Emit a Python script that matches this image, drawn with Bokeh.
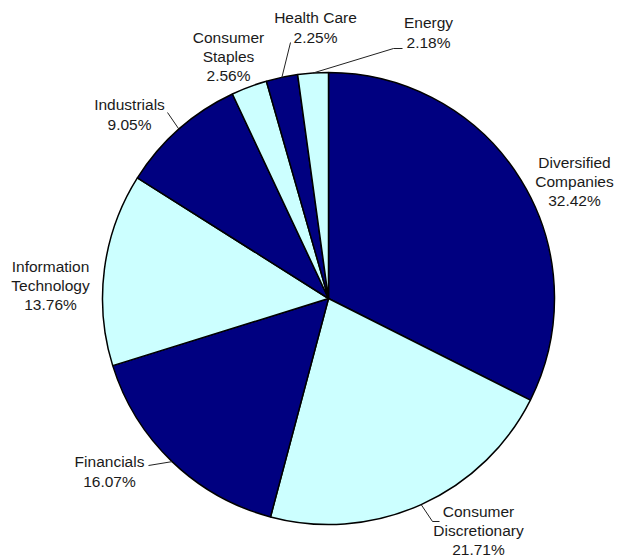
import math
from bokeh.plotting import figure
from bokeh.models import Range1d, ColumnDataSource
from bokeh.core.properties import value
from bokeh.embed import file_html
from bokeh.resources import INLINE

# ---- data ----
sectors = ["Diversified\nCompanies", "Consumer\nDiscretionary", "Financials", "Information\nTechnology",
           "Industrials", "Consumer\nStaples", "Health Care", "Energy"]
shares = [32.42, 21.71, 16.07, 13.76, 9.05, 2.56, 2.25, 2.18]
fills = ["#000080", "#CCFFFF", "#000080", "#CCFFFF", "#000080", "#CCFFFF", "#000080", "#CCFFFF"]

# ---- layout (page pixel coordinates; data y = 560 - page y) ----
W, H = 617, 560
CX, CY, R = 328, 298, 226
def Y(py):
    return H - py

# label block centres (page px)
label_pos = [(574, 181), (478, 530), (109, 471), (50, 285), (129, 114), (228, 56), (315, 27), (428, 32)]
# leader label-side points (page px); None = no leader
leader_from = [None, [(439, 521), (432, 521)], [(148, 465)], None, [(167, 112)], None, [(290, 42)],
               [(402, 48), (393, 48)]]

p = figure(width=W, height=H, output_backend="svg", toolbar_location=None,
           x_range=Range1d(0, W), y_range=Range1d(0, H),
           min_border=0, outline_line_color=None)
p.axis.visible = False
p.grid.visible = False
p.background_fill_color = "white"

total = sum(shares)
starts, ends, mids = [], [], []
cum = 0.0
for s in shares:
    a0 = cum / total * 2 * math.pi
    cum += s
    a1 = cum / total * 2 * math.pi
    starts.append(math.pi / 2 - a0)
    ends.append(math.pi / 2 - a1)
    mids.append((a0 + a1) / 2)

src = ColumnDataSource(dict(start=starts, end=ends, color=fills))
p.wedge(x=CX, y=Y(CY), radius=R, start_angle="start", end_angle="end", direction="clock",
        fill_color="color", line_color="black", line_width=1.5, source=src)

# leader lines
for i, pts in enumerate(leader_from):
    if pts is None:
        continue
    m = mids[i]
    ex = CX + R * math.sin(m)
    ey = CY - R * math.cos(m)
    xs = [q[0] for q in pts] + [ex]
    ys = [Y(q[1]) for q in pts] + [Y(ey)]
    p.line(xs, ys, line_color="#222222", line_width=1)

# labels
texts = [f"{n}\n{v:.2f}%" for n, v in zip(sectors, shares)]
lsrc = ColumnDataSource(dict(x=[q[0] for q in label_pos], y=[Y(q[1]) for q in label_pos], t=texts))
p.text(x="x", y="y", text="t", source=lsrc, text_align="center", text_baseline="middle",
       text_font=value("Liberation Sans"), text_font_size="15.5px", text_color="#1a1a1a",
       text_line_height=1.13)

open("out.html", "w").write(file_html(p, INLINE))
